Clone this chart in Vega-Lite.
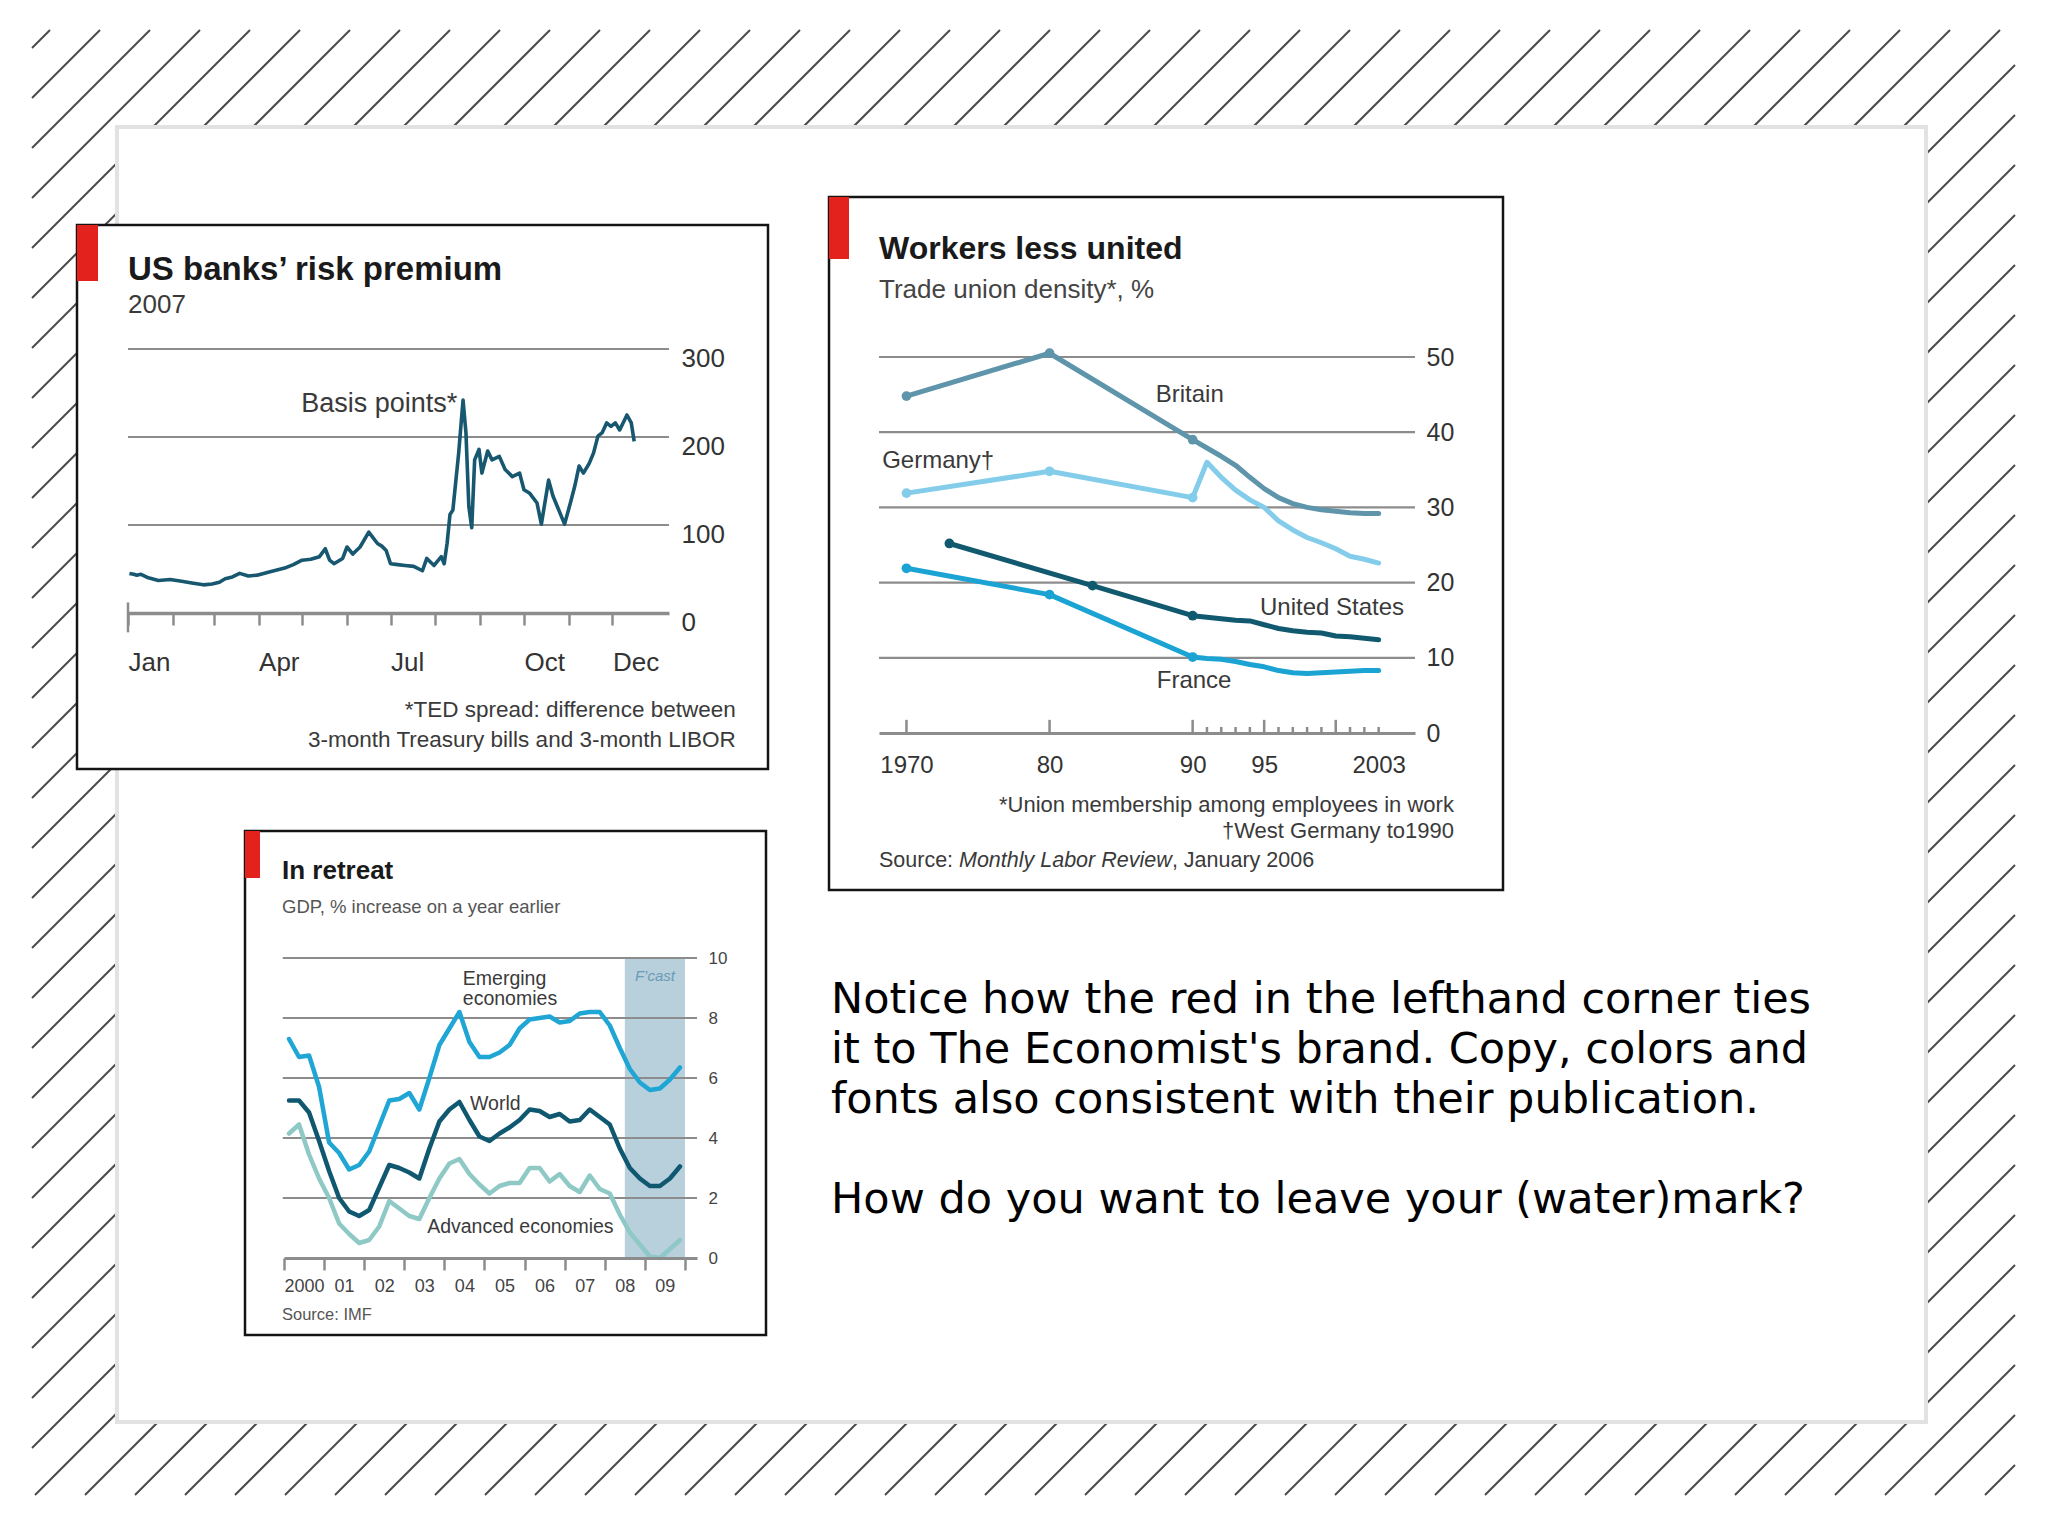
{
"$schema":"https://vega.github.io/schema/vega-lite/v6.json",
"width":2048,"height":1536,"autosize":{"type":"none"},"padding":0,"background":"#ffffff",
"config":{"view":{"stroke":null},"font":"Liberation Sans","text":{"font":"Liberation Sans"},"axis":{"labelFont":"Liberation Sans","titleFont":"Liberation Sans","zindex":1}},
"datasets":{
"hatch":[
{"x":50,"y":30,"x2":32,"y2":48},{"x":100,"y":30,"x2":32,"y2":98},{"x":150,"y":30,"x2":32,"y2":148},{"x":200,"y":30,"x2":32,"y2":198},{"x":250,"y":30,"x2":32,"y2":248},{"x":300,"y":30,"x2":32,"y2":298},{"x":350,"y":30,"x2":32,"y2":348},{"x":400,"y":30,"x2":32,"y2":398},{"x":450,"y":30,"x2":32,"y2":448},{"x":500,"y":30,"x2":32,"y2":498},{"x":550,"y":30,"x2":32,"y2":548},{"x":600,"y":30,"x2":32,"y2":598},{"x":650,"y":30,"x2":32,"y2":648},{"x":700,"y":30,"x2":32,"y2":698},{"x":750,"y":30,"x2":32,"y2":748},{"x":800,"y":30,"x2":32,"y2":798},{"x":850,"y":30,"x2":32,"y2":848},{"x":900,"y":30,"x2":32,"y2":898},{"x":950,"y":30,"x2":32,"y2":948},{"x":1000,"y":30,"x2":32,"y2":998},{"x":1050,"y":30,"x2":32,"y2":1048},{"x":1100,"y":30,"x2":32,"y2":1098},{"x":1150,"y":30,"x2":32,"y2":1148},{"x":1200,"y":30,"x2":32,"y2":1198},{"x":1250,"y":30,"x2":32,"y2":1248},{"x":1300,"y":30,"x2":32,"y2":1298},{"x":1350,"y":30,"x2":32,"y2":1348},{"x":1400,"y":30,"x2":32,"y2":1398},{"x":1450,"y":30,"x2":32,"y2":1448},
{"x":1500,"y":30,"x2":35,"y2":1495},{"x":1550,"y":30,"x2":85,"y2":1495},{"x":1600,"y":30,"x2":135,"y2":1495},{"x":1650,"y":30,"x2":185,"y2":1495},{"x":1700,"y":30,"x2":235,"y2":1495},{"x":1750,"y":30,"x2":285,"y2":1495},{"x":1800,"y":30,"x2":335,"y2":1495},{"x":1850,"y":30,"x2":385,"y2":1495},{"x":1900,"y":30,"x2":435,"y2":1495},{"x":1950,"y":30,"x2":485,"y2":1495},{"x":2000,"y":30,"x2":535,"y2":1495},
{"x":2015,"y":65,"x2":585,"y2":1495},{"x":2015,"y":115,"x2":635,"y2":1495},{"x":2015,"y":165,"x2":685,"y2":1495},{"x":2015,"y":215,"x2":735,"y2":1495},{"x":2015,"y":265,"x2":785,"y2":1495},{"x":2015,"y":315,"x2":835,"y2":1495},{"x":2015,"y":365,"x2":885,"y2":1495},{"x":2015,"y":415,"x2":935,"y2":1495},{"x":2015,"y":465,"x2":985,"y2":1495},{"x":2015,"y":515,"x2":1035,"y2":1495},{"x":2015,"y":565,"x2":1085,"y2":1495},{"x":2015,"y":615,"x2":1135,"y2":1495},{"x":2015,"y":665,"x2":1185,"y2":1495},{"x":2015,"y":715,"x2":1235,"y2":1495},{"x":2015,"y":765,"x2":1285,"y2":1495},{"x":2015,"y":815,"x2":1335,"y2":1495},{"x":2015,"y":865,"x2":1385,"y2":1495},{"x":2015,"y":915,"x2":1435,"y2":1495},{"x":2015,"y":965,"x2":1485,"y2":1495},{"x":2015,"y":1015,"x2":1535,"y2":1495},{"x":2015,"y":1065,"x2":1585,"y2":1495},{"x":2015,"y":1115,"x2":1635,"y2":1495},{"x":2015,"y":1165,"x2":1685,"y2":1495},{"x":2015,"y":1215,"x2":1735,"y2":1495},{"x":2015,"y":1265,"x2":1785,"y2":1495},{"x":2015,"y":1315,"x2":1835,"y2":1495},{"x":2015,"y":1365,"x2":1885,"y2":1495},{"x":2015,"y":1415,"x2":1935,"y2":1495},{"x":2015,"y":1465,"x2":1985,"y2":1495}
],
"ted":[
{"t":"2007-01-02","v":45},{"t":"2007-01-05","v":44},{"t":"2007-01-07","v":43},{"t":"2007-01-10","v":44},{"t":"2007-01-15","v":40},{"t":"2007-01-22","v":37},{"t":"2007-01-30","v":38},{"t":"2007-02-07","v":36},{"t":"2007-02-14","v":34},{"t":"2007-02-22","v":32},{"t":"2007-02-28","v":33},{"t":"2007-03-05","v":35},{"t":"2007-03-09","v":39},{"t":"2007-03-14","v":41},{"t":"2007-03-19","v":45},{"t":"2007-03-25","v":42},{"t":"2007-03-31","v":43},{"t":"2007-04-09","v":47},{"t":"2007-04-19","v":51},{"t":"2007-04-25","v":55},{"t":"2007-05-01","v":60},{"t":"2007-05-07","v":61},{"t":"2007-05-13","v":64},{"t":"2007-05-17","v":73},{"t":"2007-05-20","v":60},{"t":"2007-05-23","v":56},{"t":"2007-05-29","v":62},{"t":"2007-06-01","v":75},{"t":"2007-06-05","v":67},{"t":"2007-06-10","v":75},{"t":"2007-06-16","v":92},{"t":"2007-06-22","v":79},{"t":"2007-06-25","v":76},{"t":"2007-06-28","v":71},{"t":"2007-07-01","v":56},{"t":"2007-07-06","v":55},{"t":"2007-07-11","v":54},{"t":"2007-07-17","v":53},{"t":"2007-07-23","v":48},{"t":"2007-07-26","v":62},{"t":"2007-07-31","v":54},{"t":"2007-08-05","v":64},{"t":"2007-08-07","v":56},{"t":"2007-08-09","v":79},{"t":"2007-08-11","v":112},{"t":"2007-08-13","v":117},{"t":"2007-08-17","v":182},{"t":"2007-08-20","v":242},{"t":"2007-08-22","v":205},{"t":"2007-08-24","v":121},{"t":"2007-08-26","v":97},{"t":"2007-08-28","v":174},{"t":"2007-08-31","v":186},{"t":"2007-09-02","v":159},{"t":"2007-09-06","v":184},{"t":"2007-09-09","v":174},{"t":"2007-09-14","v":178},{"t":"2007-09-18","v":163},{"t":"2007-09-23","v":155},{"t":"2007-09-28","v":159},{"t":"2007-10-01","v":140},{"t":"2007-10-05","v":136},{"t":"2007-10-10","v":125},{"t":"2007-10-13","v":101},{"t":"2007-10-18","v":151},{"t":"2007-10-21","v":133},{"t":"2007-10-24","v":121},{"t":"2007-10-29","v":101},{"t":"2007-11-02","v":125},{"t":"2007-11-05","v":144},{"t":"2007-11-08","v":167},{"t":"2007-11-11","v":159},{"t":"2007-11-15","v":170},{"t":"2007-11-18","v":182},{"t":"2007-11-21","v":201},{"t":"2007-11-24","v":205},{"t":"2007-11-27","v":216},{"t":"2007-11-30","v":212},{"t":"2007-12-03","v":216},{"t":"2007-12-06","v":208},{"t":"2007-12-11","v":225},{"t":"2007-12-14","v":216},{"t":"2007-12-16","v":195}
],
"union":[
{"country":"Britain","year":1970,"v":44.8},{"country":"Britain","year":1980,"v":50.5},{"country":"Britain","year":1990,"v":39.0},{"country":"Britain","year":1991,"v":37.9},{"country":"Britain","year":1992,"v":36.8},{"country":"Britain","year":1993,"v":35.6},{"country":"Britain","year":1994,"v":34.0},{"country":"Britain","year":1995,"v":32.5},{"country":"Britain","year":1996,"v":31.3},{"country":"Britain","year":1997,"v":30.5},{"country":"Britain","year":1998,"v":30.0},{"country":"Britain","year":1999,"v":29.7},{"country":"Britain","year":2000,"v":29.5},{"country":"Britain","year":2001,"v":29.3},{"country":"Britain","year":2002,"v":29.2},{"country":"Britain","year":2003,"v":29.2},
{"country":"Germany","year":1970,"v":31.9},{"country":"Germany","year":1980,"v":34.8},{"country":"Germany","year":1990,"v":31.3},{"country":"Germany","year":1991,"v":36.0},{"country":"Germany","year":1992,"v":34.0},{"country":"Germany","year":1993,"v":32.3},{"country":"Germany","year":1994,"v":31.0},{"country":"Germany","year":1995,"v":30.0},{"country":"Germany","year":1996,"v":28.2},{"country":"Germany","year":1997,"v":27.0},{"country":"Germany","year":1998,"v":26.0},{"country":"Germany","year":1999,"v":25.3},{"country":"Germany","year":2000,"v":24.5},{"country":"Germany","year":2001,"v":23.5},{"country":"Germany","year":2002,"v":23.1},{"country":"Germany","year":2003,"v":22.6},
{"country":"United States","year":1973,"v":25.2},{"country":"United States","year":1983,"v":19.6},{"country":"United States","year":1990,"v":15.6},{"country":"United States","year":1991,"v":15.4},{"country":"United States","year":1992,"v":15.2},{"country":"United States","year":1993,"v":15.0},{"country":"United States","year":1994,"v":14.9},{"country":"United States","year":1995,"v":14.4},{"country":"United States","year":1996,"v":13.9},{"country":"United States","year":1997,"v":13.6},{"country":"United States","year":1998,"v":13.4},{"country":"United States","year":1999,"v":13.3},{"country":"United States","year":2000,"v":12.9},{"country":"United States","year":2001,"v":12.8},{"country":"United States","year":2002,"v":12.6},{"country":"United States","year":2003,"v":12.4},
{"country":"France","year":1970,"v":21.9},{"country":"France","year":1980,"v":18.4},{"country":"France","year":1990,"v":10.1},{"country":"France","year":1991,"v":9.9},{"country":"France","year":1992,"v":9.8},{"country":"France","year":1993,"v":9.5},{"country":"France","year":1994,"v":9.1},{"country":"France","year":1995,"v":8.8},{"country":"France","year":1996,"v":8.3},{"country":"France","year":1997,"v":8.0},{"country":"France","year":1998,"v":7.9},{"country":"France","year":1999,"v":8.0},{"country":"France","year":2000,"v":8.1},{"country":"France","year":2001,"v":8.2},{"country":"France","year":2002,"v":8.3},{"country":"France","year":2003,"v":8.3}
],
"gdp":[
{"s":"Advanced","year":2000.125,"v":4.15},{"s":"Advanced","year":2000.375,"v":4.45},{"s":"Advanced","year":2000.625,"v":3.45},{"s":"Advanced","year":2000.875,"v":2.65},{"s":"Advanced","year":2001.125,"v":2.0},{"s":"Advanced","year":2001.375,"v":1.15},{"s":"Advanced","year":2001.625,"v":0.8},{"s":"Advanced","year":2001.875,"v":0.5},{"s":"Advanced","year":2002.125,"v":0.6},{"s":"Advanced","year":2002.375,"v":1.05},{"s":"Advanced","year":2002.625,"v":1.9},{"s":"Advanced","year":2002.875,"v":1.65},{"s":"Advanced","year":2003.125,"v":1.4},{"s":"Advanced","year":2003.375,"v":1.3},{"s":"Advanced","year":2003.625,"v":2.0},{"s":"Advanced","year":2003.875,"v":2.65},{"s":"Advanced","year":2004.125,"v":3.15},{"s":"Advanced","year":2004.375,"v":3.3},{"s":"Advanced","year":2004.625,"v":2.8},{"s":"Advanced","year":2004.875,"v":2.45},{"s":"Advanced","year":2005.125,"v":2.15},{"s":"Advanced","year":2005.375,"v":2.4},{"s":"Advanced","year":2005.625,"v":2.5},{"s":"Advanced","year":2005.875,"v":2.5},{"s":"Advanced","year":2006.125,"v":3.0},{"s":"Advanced","year":2006.375,"v":3.0},{"s":"Advanced","year":2006.625,"v":2.55},{"s":"Advanced","year":2006.875,"v":2.8},{"s":"Advanced","year":2007.125,"v":2.4},{"s":"Advanced","year":2007.375,"v":2.2},{"s":"Advanced","year":2007.625,"v":2.75},{"s":"Advanced","year":2007.875,"v":2.3},{"s":"Advanced","year":2008.125,"v":2.15},{"s":"Advanced","year":2008.375,"v":1.45},{"s":"Advanced","year":2008.625,"v":0.85},{"s":"Advanced","year":2008.875,"v":0.45},{"s":"Advanced","year":2009.125,"v":0.05},{"s":"Advanced","year":2009.375,"v":0.0},{"s":"Advanced","year":2009.625,"v":0.3},{"s":"Advanced","year":2009.875,"v":0.6},
{"s":"Emerging","year":2000.125,"v":7.3},{"s":"Emerging","year":2000.375,"v":6.7},{"s":"Emerging","year":2000.625,"v":6.75},{"s":"Emerging","year":2000.875,"v":5.7},{"s":"Emerging","year":2001.125,"v":3.85},{"s":"Emerging","year":2001.375,"v":3.5},{"s":"Emerging","year":2001.625,"v":2.95},{"s":"Emerging","year":2001.875,"v":3.1},{"s":"Emerging","year":2002.125,"v":3.55},{"s":"Emerging","year":2002.375,"v":4.4},{"s":"Emerging","year":2002.625,"v":5.25},{"s":"Emerging","year":2002.875,"v":5.3},{"s":"Emerging","year":2003.125,"v":5.5},{"s":"Emerging","year":2003.375,"v":4.95},{"s":"Emerging","year":2003.625,"v":6.0},{"s":"Emerging","year":2003.875,"v":7.1},{"s":"Emerging","year":2004.125,"v":7.65},{"s":"Emerging","year":2004.375,"v":8.2},{"s":"Emerging","year":2004.625,"v":7.2},{"s":"Emerging","year":2004.875,"v":6.7},{"s":"Emerging","year":2005.125,"v":6.7},{"s":"Emerging","year":2005.375,"v":6.85},{"s":"Emerging","year":2005.625,"v":7.1},{"s":"Emerging","year":2005.875,"v":7.65},{"s":"Emerging","year":2006.125,"v":7.95},{"s":"Emerging","year":2006.375,"v":8.0},{"s":"Emerging","year":2006.625,"v":8.05},{"s":"Emerging","year":2006.875,"v":7.85},{"s":"Emerging","year":2007.125,"v":7.9},{"s":"Emerging","year":2007.375,"v":8.15},{"s":"Emerging","year":2007.625,"v":8.2},{"s":"Emerging","year":2007.875,"v":8.2},{"s":"Emerging","year":2008.125,"v":7.75},{"s":"Emerging","year":2008.375,"v":7.0},{"s":"Emerging","year":2008.625,"v":6.3},{"s":"Emerging","year":2008.875,"v":5.85},{"s":"Emerging","year":2009.125,"v":5.6},{"s":"Emerging","year":2009.375,"v":5.65},{"s":"Emerging","year":2009.625,"v":5.95},{"s":"Emerging","year":2009.875,"v":6.35},
{"s":"World","year":2000.125,"v":5.25},{"s":"World","year":2000.375,"v":5.25},{"s":"World","year":2000.625,"v":4.85},{"s":"World","year":2000.875,"v":3.9},{"s":"World","year":2001.125,"v":2.9},{"s":"World","year":2001.375,"v":2.0},{"s":"World","year":2001.625,"v":1.55},{"s":"World","year":2001.875,"v":1.4},{"s":"World","year":2002.125,"v":1.6},{"s":"World","year":2002.375,"v":2.35},{"s":"World","year":2002.625,"v":3.1},{"s":"World","year":2002.875,"v":3.0},{"s":"World","year":2003.125,"v":2.85},{"s":"World","year":2003.375,"v":2.65},{"s":"World","year":2003.625,"v":3.65},{"s":"World","year":2003.875,"v":4.55},{"s":"World","year":2004.125,"v":4.95},{"s":"World","year":2004.375,"v":5.2},{"s":"World","year":2004.625,"v":4.6},{"s":"World","year":2004.875,"v":4.05},{"s":"World","year":2005.125,"v":3.9},{"s":"World","year":2005.375,"v":4.15},{"s":"World","year":2005.625,"v":4.35},{"s":"World","year":2005.875,"v":4.6},{"s":"World","year":2006.125,"v":4.95},{"s":"World","year":2006.375,"v":4.9},{"s":"World","year":2006.625,"v":4.7},{"s":"World","year":2006.875,"v":4.8},{"s":"World","year":2007.125,"v":4.55},{"s":"World","year":2007.375,"v":4.6},{"s":"World","year":2007.625,"v":4.95},{"s":"World","year":2007.875,"v":4.7},{"s":"World","year":2008.125,"v":4.45},{"s":"World","year":2008.375,"v":3.65},{"s":"World","year":2008.625,"v":3.0},{"s":"World","year":2008.875,"v":2.65},{"s":"World","year":2009.125,"v":2.4},{"s":"World","year":2009.375,"v":2.4},{"s":"World","year":2009.625,"v":2.65},{"s":"World","year":2009.875,"v":3.05}
]
},
"resolve":{"scale":{"x":"independent","y":"independent","color":"independent"},"axis":{"x":"independent","y":"independent"}},
"layer":[
{
"encoding":{
"x":{"field":"x","type":"quantitative","scale":{"domain":[0,2048],"range":[0,2048],"nice":false,"zero":false},"axis":null},
"y":{"field":"y","type":"quantitative","scale":{"domain":[0,1536],"range":[0,1536],"nice":false,"zero":false},"axis":null}
},
"layer":[
{"data":{"name":"hatch"},"mark":{"type":"rule","stroke":"#4a4a4a","strokeWidth":2},"encoding":{"x2":{"field":"x2"},"y2":{"field":"y2"}}},
{"data":{"values":[{"x":117,"y":127,"x2":1926,"y2":1422}]},"mark":{"type":"rect","fill":"#ffffff","stroke":"#e2e2e2","strokeWidth":4},"encoding":{"x2":{"field":"x2"},"y2":{"field":"y2"}}},
{"data":{"values":[{"x":77,"y":225,"x2":768,"y2":769},{"x":829,"y":197,"x2":1503,"y2":890},{"x":245,"y":831,"x2":766,"y2":1335}]},"mark":{"type":"rect","fill":"#ffffff","stroke":"#141414","strokeWidth":2.5},"encoding":{"x2":{"field":"x2"},"y2":{"field":"y2"}}},
{"data":{"values":[{"x":77,"y":225,"x2":98,"y2":281},{"x":829,"y":197,"x2":849,"y2":259},{"x":245,"y":831,"x2":260,"y2":878}]},"mark":{"type":"rect","fill":"#e3221d"},"encoding":{"x2":{"field":"x2"},"y2":{"field":"y2"}}},
{"data":{"values":[{"x":831,"y":1013,"text":"Notice how the red in the lefthand corner ties"},{"x":831,"y":1063,"text":"it to The Economist's brand. Copy, colors and"},{"x":831,"y":1113,"text":"fonts also consistent with their publication."},{"x":831,"y":1213,"text":"How do you want to leave your (water)mark?"}]},"mark":{"type":"text","align":"left","baseline":"alphabetic","fontSize":43,"font":"DejaVu Sans","color":"#000000"},"encoding":{"text":{"field":"text"}}}
]
},
{
"encoding":{
"x":{"field":"t","type":"temporal","scale":{"type":"utc","domain":[{"year":2007,"month":1,"date":1,"utc":true},{"year":2008,"month":1,"date":9,"utc":true}],"range":[128,669],"nice":false},
"axis":{"orient":"bottom","offset":-923,"title":null,"grid":false,"zindex":1,"values":[{"year":2007,"month":1,"date":1,"utc":true},{"year":2007,"month":2,"date":1,"utc":true},{"year":2007,"month":3,"date":1,"utc":true},{"year":2007,"month":4,"date":1,"utc":true},{"year":2007,"month":5,"date":1,"utc":true},{"year":2007,"month":6,"date":1,"utc":true},{"year":2007,"month":7,"date":1,"utc":true},{"year":2007,"month":8,"date":1,"utc":true},{"year":2007,"month":9,"date":1,"utc":true},{"year":2007,"month":10,"date":1,"utc":true},{"year":2007,"month":11,"date":1,"utc":true},{"year":2007,"month":12,"date":1,"utc":true}],"format":"%b","labelExpr":"indexof(['Jan','Apr','Jul','Oct','Dec'], datum.label) >= 0 ? datum.label : ''","labelAlign":"left","labelFlush":false,"labelOverlap":false,"tickSize":12,"tickWidth":2.5,"tickColor":"#8c8c8c","domainColor":"#8c8c8c","domainWidth":3.5,"labelPadding":24,"labelFontSize":26,"labelColor":"#333333"}},
"y":{"field":"v","type":"quantitative","scale":{"domain":[0,300],"range":[613,349],"nice":false,"zero":false},
"axis":{"orient":"right","offset":-1379,"title":null,"grid":false,"zindex":1,"domain":false,"ticks":false,"values":[0,100,200,300],"labelPadding":12,"labelOffset":9,"labelFontSize":26,"labelColor":"#333333","labelFlush":false,"labelOverlap":false}}
},
"layer":[
{"data":{"values":[{"v":100,"t":"2007-01-01","t2":"2008-01-09"},{"v":200,"t":"2007-01-01","t2":"2008-01-09"},{"v":300,"t":"2007-01-01","t2":"2008-01-09"}]},"mark":{"type":"rule","stroke":"#8c8c8c","strokeWidth":2.2},"encoding":{"x2":{"field":"t2"}}},
{"data":{"values":[{"t":"2007-01-01","v":-22,"v2":12}]},"mark":{"type":"rule","stroke":"#8c8c8c","strokeWidth":2.5},"encoding":{"y2":{"field":"v2"}}},
{"data":{"name":"ted"},"mark":{"type":"line","stroke":"#17576f","strokeWidth":3.6,"strokeJoin":"round"},"encoding":{}},
{"data":{"values":[{"t":"2007-01-01","v":378.4,"label":"US banks’ risk premium"}]},"mark":{"type":"text","align":"left","baseline":"alphabetic","fontSize":33,"fontWeight":"bold","color":"#1a1a1a"},"encoding":{"text":{"field":"label"}}},
{"data":{"values":[{"t":"2007-01-01","v":341,"label":"2007"}]},"mark":{"type":"text","align":"left","baseline":"alphabetic","fontSize":26,"color":"#3a3a3a"},"encoding":{"text":{"field":"label"}}},
{"data":{"values":[{"t":"2007-08-16","v":228,"label":"Basis points*"}]},"mark":{"type":"text","align":"right","baseline":"alphabetic","fontSize":27,"color":"#3a3a3a"},"encoding":{"text":{"field":"label"}}},
{"data":{"values":[{"t":"2008-02-24","v":-118,"label":"*TED spread: difference between"},{"t":"2008-02-24","v":-152,"label":"3-month Treasury bills and 3-month LIBOR"}]},"mark":{"type":"text","align":"right","baseline":"alphabetic","fontSize":22.5,"color":"#3a3a3a"},"encoding":{"text":{"field":"label"}}}
]
},
{
"encoding":{
"x":{"field":"year","type":"quantitative","scale":{"domain":[1968.08,2005.54],"range":[879,1415],"nice":false,"zero":false},
"axis":{"orient":"bottom","offset":-803,"title":null,"grid":false,"zindex":1,"ticks":false,"values":[1970,1980,1990,1995,2003],"format":"d","labelExpr":"datum.value == 1970 || datum.value == 2003 ? datum.label : substring(datum.label, 2)","labelPadding":20,"labelFontSize":24,"labelColor":"#333333","domainColor":"#8c8c8c","domainWidth":3,"labelFlush":false,"labelOverlap":false}},
"y":{"field":"v","type":"quantitative","scale":{"domain":[0,50],"range":[733,357],"nice":false,"zero":false},
"axis":{"orient":"right","offset":-633,"title":null,"grid":false,"zindex":1,"domain":false,"ticks":false,"values":[0,10,20,30,40,50],"labelPadding":11,"labelFontSize":25,"labelColor":"#333333","labelFlush":false,"labelOverlap":false}}
},
"layer":[
{"data":{"values":[{"v":10,"year":1968.08,"year2":2005.54},{"v":20,"year":1968.08,"year2":2005.54},{"v":30,"year":1968.08,"year2":2005.54},{"v":40,"year":1968.08,"year2":2005.54},{"v":50,"year":1968.08,"year2":2005.54}]},"mark":{"type":"rule","stroke":"#8c8c8c","strokeWidth":2.2},"encoding":{"x2":{"field":"year2"}}},
{"data":{"values":[{"year":1970,"v":0,"v2":1.75},{"year":1980,"v":0,"v2":1.75},{"year":1990,"v":0,"v2":1.75},{"year":1995,"v":0,"v2":1.75},{"year":2000,"v":0,"v2":1.75},{"year":1991,"v":0,"v2":0.8},{"year":1992,"v":0,"v2":0.8},{"year":1993,"v":0,"v2":0.8},{"year":1994,"v":0,"v2":0.8},{"year":1996,"v":0,"v2":0.8},{"year":1997,"v":0,"v2":0.8},{"year":1998,"v":0,"v2":0.8},{"year":1999,"v":0,"v2":0.8},{"year":2001,"v":0,"v2":0.8},{"year":2002,"v":0,"v2":0.8},{"year":2003,"v":0,"v2":0.8}]},"mark":{"type":"rule","stroke":"#8c8c8c","strokeWidth":2.5},"encoding":{"y2":{"field":"v2"}}},
{"data":{"name":"union"},"mark":{"type":"line","strokeWidth":5,"strokeJoin":"round","strokeCap":"round"},"encoding":{"color":{"field":"country","type":"nominal","scale":{"domain":["Britain","Germany","United States","France"],"range":["#5f95aa","#84cdea","#11596f","#1aa3d3"]},"legend":null}}},
{"data":{"name":"union"},"transform":[{"filter":"indexof([1970,1973,1980,1983,1990], datum.year) >= 0"}],"mark":{"type":"point","filled":true,"size":95,"opacity":1},"encoding":{"color":{"field":"country","type":"nominal","legend":null}}},
{"data":{"values":[{"year":1989.8,"v":44.0,"label":"Britain"},{"year":1999.74,"v":15.65,"label":"United States"},{"year":1990.1,"v":5.97,"label":"France"}]},"mark":{"type":"text","align":"center","baseline":"alphabetic","fontSize":24,"color":"#3a3a3a"},"encoding":{"text":{"field":"label"}}},
{"data":{"values":[{"year":1968.3,"v":35.3,"label":"Germany†"}]},"mark":{"type":"text","align":"left","baseline":"alphabetic","fontSize":24,"color":"#3a3a3a"},"encoding":{"text":{"field":"label"}}},
{"data":{"values":[{"year":1968.08,"v":63.0,"label":"Workers less united"}]},"mark":{"type":"text","align":"left","baseline":"alphabetic","fontSize":32,"fontWeight":"bold","color":"#1a1a1a"},"encoding":{"text":{"field":"label"}}},
{"data":{"values":[{"year":1968.08,"v":57.8,"label":"Trade union density*, %"}]},"mark":{"type":"text","align":"left","baseline":"alphabetic","fontSize":26,"color":"#444444"},"encoding":{"text":{"field":"label"}}},
{"data":{"values":[{"year":2008.26,"v":-10.5,"label":"*Union membership among employees in work"},{"year":2008.26,"v":-13.9,"label":"†West Germany to1990"}]},"mark":{"type":"text","align":"right","baseline":"alphabetic","fontSize":22,"color":"#3a3a3a"},"encoding":{"text":{"field":"label"}}},
{"data":{"values":[{"year":1968.08,"v":-17.8,"label":"Source: "},{"year":1988.55,"v":-17.8,"label":", January 2006"}]},"mark":{"type":"text","align":"left","baseline":"alphabetic","fontSize":21.5,"color":"#3a3a3a"},"encoding":{"text":{"field":"label"}}},
{"data":{"values":[{"year":1973.67,"v":-17.8,"label":"Monthly Labor Review"}]},"mark":{"type":"text","align":"left","baseline":"alphabetic","fontSize":21.5,"fontStyle":"italic","color":"#3a3a3a"},"encoding":{"text":{"field":"label"}}}
]
},
{
"encoding":{
"x":{"field":"year","type":"quantitative","scale":{"domain":[2000,2010.3],"range":[284,697],"nice":false,"zero":false},
"axis":{"orient":"bottom","offset":-278,"title":null,"grid":false,"zindex":1,"values":[2000,2001,2002,2003,2004,2005,2006,2007,2008,2009,2010],"format":"d","labelExpr":"datum.value == 2000 ? '2000' : (datum.value == 2010 ? '' : substring(datum.label, 2))","labelOffset":20,"tickSize":12,"tickWidth":2.5,"tickColor":"#8c8c8c","domainColor":"#8c8c8c","domainWidth":3,"labelPadding":7,"labelFontSize":18,"labelColor":"#444444","labelFlush":false,"labelOverlap":false}},
"y":{"field":"v","type":"quantitative","scale":{"domain":[0,10],"range":[1258,958],"nice":false,"zero":false},
"axis":{"orient":"right","offset":-1351,"title":null,"grid":false,"zindex":1,"domain":false,"ticks":false,"values":[0,2,4,6,8,10],"labelPadding":11,"labelFontSize":17,"labelColor":"#444444","labelFlush":false,"labelOverlap":false}}
},
"layer":[
{"data":{"values":[{"year":2008.5,"year2":2010,"v":0,"v2":10}]},"mark":{"type":"rect","fill":"#b8cfdc"},"encoding":{"x2":{"field":"year2"},"y2":{"field":"v2"}}},
{"data":{"values":[{"v":2,"year":1999.97,"year2":2010.3},{"v":4,"year":1999.97,"year2":2010.3},{"v":6,"year":1999.97,"year2":2010.3},{"v":8,"year":1999.97,"year2":2010.3},{"v":10,"year":1999.97,"year2":2010.3}]},"mark":{"type":"rule","stroke":"#8c8c8c","strokeWidth":2},"encoding":{"x2":{"field":"year2"}}},
{"data":{"name":"gdp"},"mark":{"type":"line","strokeWidth":4.5,"strokeJoin":"round","strokeCap":"round"},"encoding":{"color":{"field":"s","type":"nominal","scale":{"domain":["Advanced","World","Emerging"],"range":["#8fc9c6","#0f5870","#1fa6d5"]},"legend":null}}},
{"data":{"values":[{"year":2004.46,"v":9.1,"label":"Emerging"},{"year":2004.46,"v":8.44,"label":"economies"},{"year":2004.64,"v":4.92,"label":"World"},{"year":2003.57,"v":0.83,"label":"Advanced economies"}]},"mark":{"type":"text","align":"left","baseline":"alphabetic","fontSize":19.5,"color":"#3a3a3a"},"encoding":{"text":{"field":"label"}}},
{"data":{"values":[{"year":2009.25,"v":9.24,"label":"F’cast"}]},"mark":{"type":"text","align":"center","baseline":"alphabetic","fontSize":15,"fontStyle":"italic","color":"#6b9bb5"},"encoding":{"text":{"field":"label"}}},
{"data":{"values":[{"year":1999.95,"v":12.62,"label":"In retreat"}]},"mark":{"type":"text","align":"left","baseline":"alphabetic","fontSize":26,"fontWeight":"bold","color":"#1a1a1a"},"encoding":{"text":{"field":"label"}}},
{"data":{"values":[{"year":1999.95,"v":11.5,"label":"GDP, % increase on a year earlier"}]},"mark":{"type":"text","align":"left","baseline":"alphabetic","fontSize":18.5,"color":"#555555"},"encoding":{"text":{"field":"label"}}},
{"data":{"values":[{"year":1999.95,"v":-2.06,"label":"Source: IMF"}]},"mark":{"type":"text","align":"left","baseline":"alphabetic","fontSize":16.5,"color":"#555555"},"encoding":{"text":{"field":"label"}}}
]
}
]
}
